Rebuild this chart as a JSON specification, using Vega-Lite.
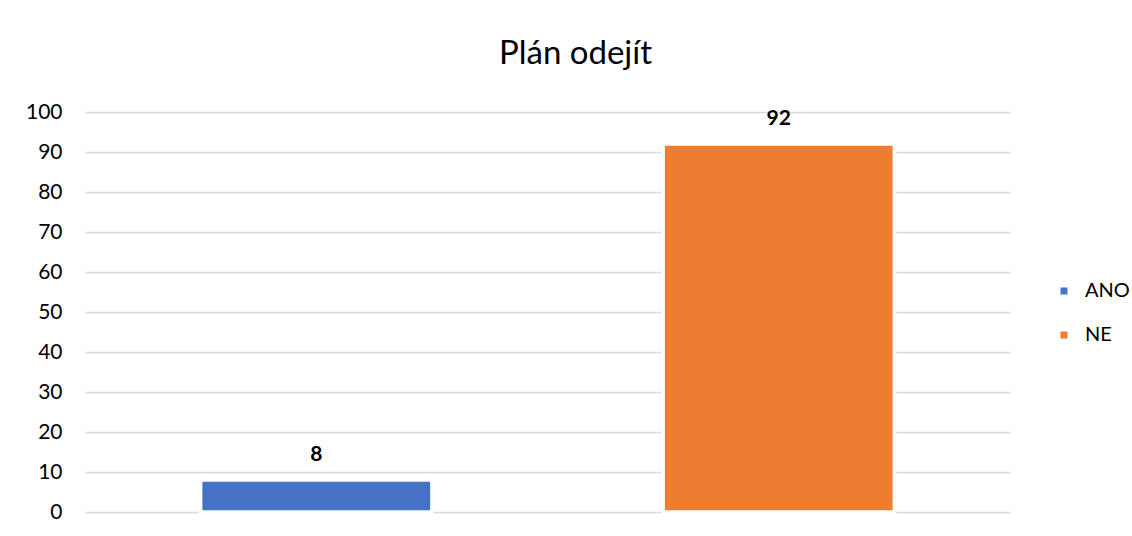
{
  "$schema": "https://vega.github.io/schema/vega-lite/v6.json",
  "autosize": {"type": "none"},
  "width": 925,
  "height": 400,
  "padding": {"left": 85, "top": 112, "right": 122, "bottom": 24},
  "background": "white",
  "title": {"text": "Plán odejít", "fontSize": 33, "font": "Lato", "fontWeight": "normal", "color": "#000000", "anchor": "middle", "baseline": "alphabetic", "offset": 4, "dx": 28},
  "data": {"values": [{"odpoved": "ANO", "hodnota": 8}, {"odpoved": "NE", "hodnota": 92}]},
  "encoding": {
    "x": {"field": "odpoved", "type": "nominal", "sort": ["ANO", "NE"], "scale": {"paddingInner": 0.5, "paddingOuter": 0.25}, "axis": null},
    "y": {"field": "hodnota", "type": "quantitative", "scale": {"domain": [0, 100]},
      "axis": {"values": [0, 10, 20, 30, 40, 50, 60, 70, 80, 90, 100], "title": null, "domain": false, "ticks": false, "tickSize": 0, "labelPadding": 23, "labelFont": "Lato", "labelFontSize": 21, "labelColor": "#000000", "gridColor": "#D9D9D9", "gridWidth": 1.3}}
  },
  "layer": [
    {"mark": {"type": "bar", "stroke": "white", "strokeWidth": 3.5},
     "encoding": {"color": {"field": "odpoved", "type": "nominal",
       "scale": {"domain": ["ANO", "NE"], "range": ["#4472C4", "#ED7D31"]},
       "legend": {"title": null, "orient": "none", "legendX": 969, "legendY": 169, "symbolType": "square", "symbolSize": 49, "symbolStrokeWidth": 0, "labelFont": "Lato", "labelFontSize": 20, "labelColor": "#000000", "labelOffset": 11, "rowPadding": 24, "padding": 0}}}},
    {"mark": {"type": "text", "dy": -25.5, "baseline": "middle", "fontWeight": "bold", "fontSize": 21, "font": "Lato", "color": "#000000"},
     "encoding": {"text": {"field": "hodnota", "type": "quantitative", "format": ".0f"}}}
  ],
  "config": {"view": {"stroke": null}}
}
